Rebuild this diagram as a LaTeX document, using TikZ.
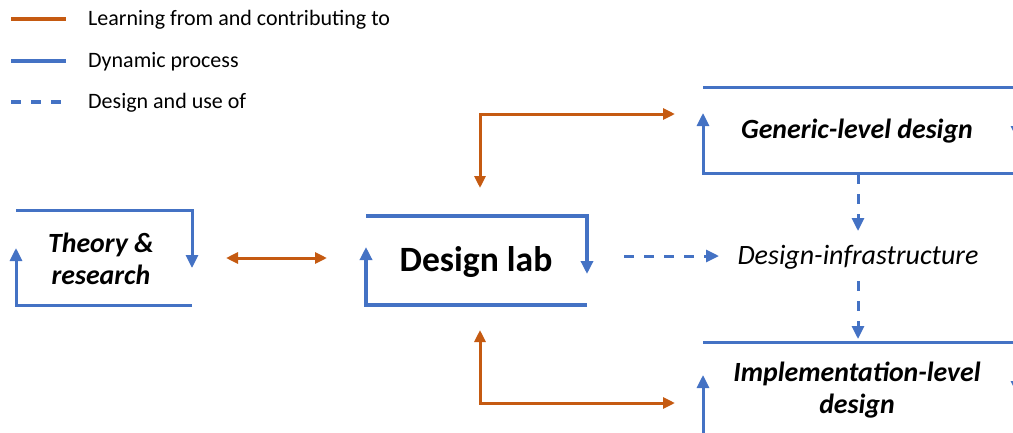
\documentclass[tikz,border=0pt]{standalone}
\usepackage{fontspec}
\setmainfont{Carlito}
\usetikzlibrary{arrows.meta}
\definecolor{flowblue}{HTML}{4472C4}
\definecolor{linkorange}{HTML}{C55A11}
\tikzset{
  tip/.style={-{Triangle[length=13pt,width=12pt]}},
  bitip/.style={{Triangle[length=12pt,width=11pt]}-{Triangle[length=12pt,width=11pt]}},
  loopline/.style={flowblue,line width=3pt},
  thickloop/.style={flowblue,line width=4.2pt},
  linkline/.style={linkorange,line width=3pt},
  useline/.style={flowblue,line width=3pt,dash pattern=on 10pt off 10pt},
  legendtext/.style={anchor=west,inner sep=0pt,font=\fontsize{22}{26}\selectfont},
  boxtext/.style={inner sep=0pt,align=center,font=\fontsize{27.8}{32}\selectfont\bfseries\itshape},
}
\begin{document}
\begin{tikzpicture}[x=1pt,y=-1pt]
\useasboundingbox (0,0) rectangle (1013,432);
\clip (0,0) rectangle (1013,432);

% legend
\coordinate (la1) at (11,19);  \coordinate (lb1) at (66,19);
\coordinate (la2) at (11,61);  \coordinate (lb2) at (66,61);
\coordinate (la3) at (11,102); \coordinate (lb3) at (66,102);
\draw[linkline,line width=3.6pt] (la1) -- (lb1);
\draw[loopline,line width=3.6pt] (la2) -- (lb2);
\draw[useline,line width=3.6pt] (la3) -- (lb3);
\node[legendtext] (leg1) at (88,20) {Learning from and contributing to};
\node[legendtext] (leg2) at (88,62) {Dynamic process};
\node[legendtext] (leg3) at (88,103) {Design and use of};

% text nodes
\node[boxtext] (theory) at (101,259) {Theory \&\\research};
\node[inner sep=0pt,font=\fontsize{35.6}{40}\selectfont\bfseries] (lab) at (476,262) {Design lab};
\node[inner sep=0pt,font=\fontsize{28}{32}\selectfont\itshape] (infra) at (858,257) {Design-infrastructure};
\node[boxtext] (generic) at (857,131) {Generic-level design};
\node[boxtext] (impl) at (857,390) {Implementation-level\\design};

% theory & research loop
\coordinate (t1) at (16,210); \coordinate (t2) at (192,210); \coordinate (t3) at (192,268);
\coordinate (t4) at (192,305); \coordinate (t5) at (16,305); \coordinate (t6) at (16,248);
\draw[loopline,tip] (t1) -- (t2) -- (t3);
\draw[loopline,tip] (t4) -- (t5) -- (t6);

% design lab loop
\coordinate (d1) at (366,216); \coordinate (d2) at (587,216); \coordinate (d3) at (587,274);
\coordinate (d4) at (587,305); \coordinate (d5) at (366,305); \coordinate (d6) at (366,247);
\draw[thickloop,tip] (d1) -- (d2) -- (d3);
\draw[thickloop,tip] (d4) -- (d5) -- (d6);

% generic-level loop
\coordinate (g1) at (703,87);  \coordinate (g2) at (1017,87);  \coordinate (g3) at (1017,139);
\coordinate (g4) at (1030,173); \coordinate (g5) at (703,173); \coordinate (g6) at (703,113);
\draw[loopline,tip] (g1) -- (g2) -- (g3);
\draw[loopline,tip] (g4) -- (g5) -- (g6);

% implementation-level loop
\coordinate (i1) at (703,342); \coordinate (i2) at (1017,342); \coordinate (i3) at (1017,394);
\coordinate (i5) at (703,445); \coordinate (i6) at (703,375);
\draw[loopline,tip] (i1) -- (i2) -- (i3);
\draw[loopline,tip] (i5) -- (i6);

% learning from and contributing to
\coordinate (tr) at (226,258); \coordinate (dl) at (327,258);
\draw[linkline,bitip] (tr) -- (dl);
\coordinate (labtop) at (480,188); \coordinate (gen) at (675,114);
\draw[linkline,bitip] (labtop) |- (gen);
\coordinate (labbot) at (480,330); \coordinate (imp) at (675,403);
\draw[linkline,bitip] (labbot) |- (imp);

% design and use of
\coordinate (labout) at (624,256); \coordinate (infin) at (719,256);
\draw[useline,tip] (labout) -- (infin);
\coordinate (genout) at (858,174); \coordinate (infup) at (858,231);
\draw[useline,tip] (genout) -- (infup);
\coordinate (infdown) at (858,281); \coordinate (impin) at (858,339);
\draw[useline,tip] (infdown) -- (impin);
\end{tikzpicture}
\end{document}
